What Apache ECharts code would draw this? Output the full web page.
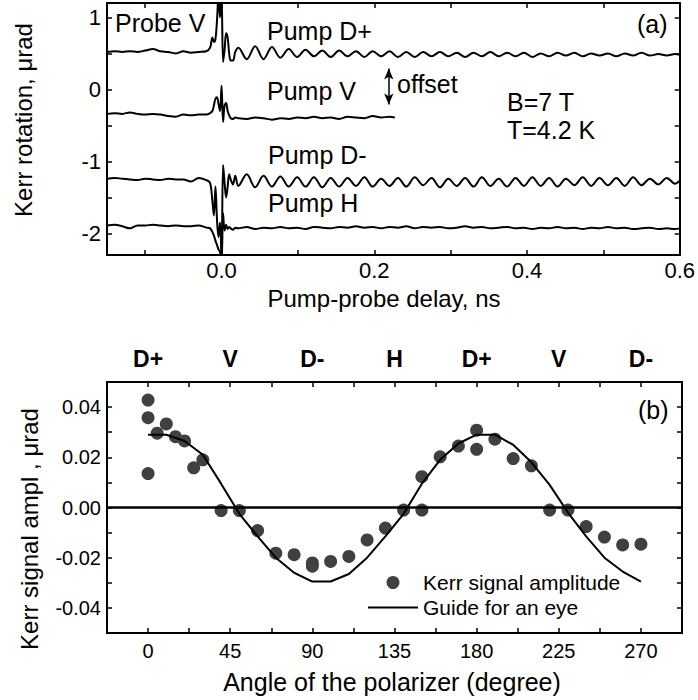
<!DOCTYPE html>
<html><head><meta charset="utf-8">
<script src="https://cdn.jsdelivr.net/npm/echarts@6/dist/echarts.min.js"></script>
<style>html,body{margin:0;padding:0;background:#fff}#c{width:698px;height:700px}</style>
</head><body><div id="c"></div>
<script>
// ---------- panel (a): Kerr rotation traces ----------
const DELAY_NS = [
  -0.15, -0.14, -0.13, -0.12, -0.11, -0.1, -0.09, -0.08, -0.07, -0.06, -0.05, -0.04, -0.03, -0.02,
  -0.015, -0.012, -0.01, -0.008, -0.006, -0.004, -0.002, 0, 0.002, 0.004, 0.006, 0.008, 0.01, 0.012, 0.015, 0.018,
  0.022, 0.033, 0.044, 0.055, 0.066, 0.077, 0.088, 0.099, 0.11, 0.121,
  0.132, 0.143, 0.154, 0.165, 0.176, 0.187, 0.198, 0.209, 0.22, 0.231,
  0.242, 0.253, 0.264, 0.275, 0.286, 0.297, 0.308, 0.319, 0.33, 0.341,
  0.352, 0.363, 0.374, 0.385, 0.396, 0.407, 0.418, 0.429, 0.44, 0.451,
  0.462, 0.473, 0.484, 0.495, 0.506, 0.517, 0.528, 0.539, 0.55, 0.561,
  0.572, 0.583, 0.594, 0.6
];
const PUMP_DPLUS = [
  0.52, 0.53, 0.52, 0.53, 0.52, 0.54, 0.56, 0.53, 0.52, 0.50, 0.53, 0.51, 0.52, 0.53,
  0.58, 0.72, 0.66, 0.70, 0.95, 1.30, 1.00, 1.30, 0.38, 0.55, 0.78, 0.72, 0.50, 0.40, 0.40, 0.52,
  0.58, 0.42, 0.60, 0.42, 0.59, 0.44, 0.56, 0.45, 0.55, 0.46,
  0.54, 0.45, 0.54, 0.46, 0.53, 0.45, 0.53, 0.46, 0.53, 0.45,
  0.52, 0.45, 0.52, 0.46, 0.52, 0.46, 0.51, 0.45, 0.51, 0.46,
  0.52, 0.46, 0.51, 0.46, 0.51, 0.45, 0.50, 0.46, 0.51, 0.47,
  0.51, 0.46, 0.50, 0.47, 0.50, 0.46, 0.50, 0.47, 0.51, 0.47,
  0.49, 0.47, 0.49, 0.48
];
const PUMP_V = [
  -0.34, -0.33, -0.34, -0.32, -0.34, -0.35, -0.34, -0.35, -0.37, -0.38, -0.35, -0.36, -0.35, -0.35,
  -0.33, -0.30, -0.22, -0.13, -0.11, -0.20, -0.30, 0.05, -0.45, -0.22, -0.19, -0.30, -0.36, -0.40, -0.41, -0.39,
  -0.40, -0.41, -0.39, -0.40, -0.42, -0.40, -0.41, -0.39, -0.40, -0.38,
  -0.40, -0.39, -0.41, -0.38, -0.39, -0.40, -0.37, -0.39, -0.38
];
const PUMP_V_END_NS = 0.227;
const PUMP_V_END_VALUE = -0.39;
const PUMP_DMINUS = [
  -1.24, -1.23, -1.24, -1.25, -1.26, -1.24, -1.25, -1.26, -1.24, -1.25, -1.25, -1.28, -1.23, -1.26,
  -1.30, -1.55, -1.75, -1.35, -1.80, -2.05, -1.85, -2.35, -1.05, -1.30, -1.50, -1.35, -1.18, -1.25, -1.32, -1.20,
  -1.34, -1.18, -1.36, -1.20, -1.35, -1.21, -1.35, -1.22, -1.35, -1.22,
  -1.36, -1.23, -1.35, -1.23, -1.34, -1.22, -1.35, -1.24, -1.34, -1.23,
  -1.35, -1.22, -1.33, -1.23, -1.36, -1.24, -1.34, -1.23, -1.35, -1.22,
  -1.34, -1.24, -1.35, -1.23, -1.34, -1.22, -1.34, -1.23, -1.35, -1.24,
  -1.33, -1.22, -1.34, -1.23, -1.33, -1.23, -1.34, -1.22, -1.33, -1.24,
  -1.32, -1.23, -1.31, -1.27
];
const PUMP_H = [
  -1.89, -1.88, -1.90, -1.93, -1.89, -1.89, -1.88, -1.89, -1.90, -1.89, -1.90, -1.90, -1.89, -1.92,
  -1.93, -1.98, -2.03, -2.10, -2.16, -2.22, -2.26, -2.40, -1.72, -1.96, -1.88, -1.94, -1.91, -1.93, -1.95, -1.92,
  -1.93, -1.91, -1.94, -1.92, -1.93, -1.91, -1.93, -1.92, -1.94, -1.91,
  -1.92, -1.93, -1.91, -1.92, -1.90, -1.92, -1.91, -1.93, -1.91, -1.92,
  -1.90, -1.93, -1.91, -1.92, -1.91, -1.93, -1.92, -1.90, -1.92, -1.91,
  -1.93, -1.92, -1.91, -1.93, -1.92, -1.94, -1.92, -1.93, -1.91, -1.93,
  -1.92, -1.94, -1.92, -1.93, -1.91, -1.93, -1.92, -1.94, -1.93, -1.92,
  -1.94, -1.93, -1.94, -1.93
];
const DELAY_TICKS = [-0.1, 0, 0.1, 0.2, 0.3, 0.4, 0.5];
const DELAY_LABELS = [0, 0.2, 0.4, 0.6];
const ROTATION_TICKS = [-2, -1.5, -1, -0.5, 0, 0.5, 1];
const ROTATION_LABELS = [-2, -1, 0, 1];

// ---------- panel (b): Kerr amplitude vs polarizer angle ----------
const ANGLE_DEG = [0, 0, 0, 5, 10, 15, 20, 25, 30, 40, 50, 60, 70, 80, 90, 90, 100, 110, 120, 130,
  140, 150, 150, 160, 170, 180, 180, 190, 200, 210, 220, 230, 240, 250, 260, 270];
const KERR_AMPL = [0.0428, 0.0358, 0.0135, 0.0296, 0.0333, 0.0282, 0.0265, 0.0158, 0.0190, -0.0012,
  -0.0012, -0.0092, -0.0182, -0.0188, -0.0221, -0.0234, -0.0215, -0.0195, -0.0129, -0.0082,
  -0.0010, -0.0010, 0.0123, 0.0202, 0.0245, 0.0308, 0.0232, 0.0272, 0.0195, 0.0166,
  -0.0010, -0.0010, -0.0076, -0.0118, -0.0149, -0.0146];
const GUIDE_DEG = [0, 10, 20, 30, 40, 50, 60, 70, 80, 90, 100, 110, 120, 130, 140, 150, 160, 170, 180,
  190, 200, 210, 220, 230, 240, 250, 260, 270];
const GUIDE_AMPL = [0.0290, 0.0290, 0.0265, 0.0210, 0.0095, -0.0025, -0.0115, -0.0200, -0.0260, -0.0295,
  -0.0295, -0.0265, -0.0200, -0.0115, -0.0025, 0.0095, 0.0190, 0.0255, 0.0290, 0.0290,
  0.0250, 0.0180, 0.0090, -0.0020, -0.0115, -0.0200, -0.0255, -0.0295];
const ANGLE_TICKS = [0, 22.5, 45, 67.5, 90, 112.5, 135, 157.5, 180, 202.5, 225, 247.5, 270];
const ANGLE_LABELS = [0, 45, 90, 135, 180, 225, 270];
const POLARIZATION_NAMES = ['D+', 'V', 'D-', 'H', 'D+', 'V', 'D-'];
const AMPL_TICKS = [-0.04, -0.03, -0.02, -0.01, 0, 0.01, 0.02, 0.03, 0.04];
const AMPL_LABELS = [-0.04, -0.02, 0, 0.02, 0.04];

const FONT = '"Liberation Sans", Arial, Helvetica, sans-serif';
const BLACK = '#000';

function pairs(xs, ys) { return ys.map((y, i) => [xs[i], y]); }

function axisBase(extra) {
  return Object.assign({
    type: 'value',
    axisLine: { show: true, onZero: false, lineStyle: { color: BLACK, width: 2 } },
    splitLine: { show: false },
    axisTick: { show: true, inside: true, length: 5, lineStyle: { color: BLACK, width: 1.5 } },
    axisLabel: { show: false }
  }, extra);
}
function ticks(values) {
  return { show: true, inside: true, length: 5, customValues: values, lineStyle: { color: BLACK, width: 1.5 } };
}

const chart = echarts.init(document.getElementById('c'), null, { renderer: 'svg' });

const traceStyle = { color: BLACK, width: 2 };
function trace(name, vals) {
  return {
    type: 'line', name: name, xAxisIndex: 0, yAxisIndex: 0,
    data: pairs(DELAY_NS, vals), symbol: 'none', showSymbol: false,
    smooth: 0.35, lineStyle: traceStyle, silent: true, clip: true
  };
}
const vSeries = trace('Pump V', PUMP_V);
vSeries.data.push([PUMP_V_END_NS, PUMP_V_END_VALUE]);
vSeries.markLine = {
  silent: true, symbol: ['arrow', 'arrow'], symbolSize: [7, 11],
  lineStyle: { color: BLACK, width: 1.5, type: 'solid' }, label: { show: false },
  data: [[{ coord: [0.219, 0.29] }, { coord: [0.219, -0.21] }]]
};

function txt(text, x, y, size, opts) {
  return {
    type: 'text', x: x, y: y, silent: true,
    style: Object.assign({ text: text, fontSize: size, fontFamily: FONT, fill: BLACK,
      align: 'left', verticalAlign: 'middle' }, opts || {})
  };
}

chart.setOption({
  animation: false,
  backgroundColor: '#fff',
  textStyle: { fontFamily: FONT },
  grid: [
    { left: 107, right: 16, top: 3, height: 252 },
    { left: 107, right: 16, top: 382, height: 251 }
  ],
  xAxis: [
    axisBase({ gridIndex: 0, position: 'bottom', min: -0.15, max: 0.6, axisTick: ticks(DELAY_TICKS),
      axisLabel: { show: true, customValues: DELAY_LABELS, formatter: v => v.toFixed(1),
        fontSize: 22, color: BLACK, fontFamily: FONT, margin: 4 } }),
    axisBase({ gridIndex: 0, position: 'top', min: -0.15, max: 0.6, axisTick: ticks(DELAY_TICKS) }),
    axisBase({ gridIndex: 1, position: 'bottom', min: -22.5, max: 292.5, axisTick: ticks(ANGLE_TICKS),
      axisLabel: { show: true, customValues: ANGLE_LABELS, formatter: v => String(v),
        fontSize: 20, color: BLACK, fontFamily: FONT, margin: 8 } }),
    axisBase({ gridIndex: 1, position: 'top', min: -22.5, max: 292.5, axisTick: ticks(ANGLE_TICKS),
      axisLabel: { show: true, customValues: ANGLE_LABELS,
        formatter: v => POLARIZATION_NAMES[ANGLE_LABELS.indexOf(v)] || '',
        fontSize: 23, fontWeight: 'bold', color: BLACK, fontFamily: FONT, margin: 12 } })
  ],
  yAxis: [
    axisBase({ gridIndex: 0, position: 'left', min: -2.3, max: 1.2, axisTick: ticks(ROTATION_TICKS),
      axisLabel: { show: true, customValues: ROTATION_LABELS, formatter: v => String(v),
        fontSize: 22, color: BLACK, fontFamily: FONT, margin: 6 } }),
    axisBase({ gridIndex: 0, position: 'right', min: -2.3, max: 1.2, axisTick: ticks(ROTATION_TICKS) }),
    axisBase({ gridIndex: 1, position: 'left', min: -0.05, max: 0.05, axisTick: ticks(AMPL_TICKS),
      axisLabel: { show: true, customValues: AMPL_LABELS, formatter: v => v.toFixed(2),
        fontSize: 20, color: BLACK, fontFamily: FONT, margin: 6 } }),
    axisBase({ gridIndex: 1, position: 'right', min: -0.05, max: 0.05, axisTick: ticks(AMPL_TICKS) })
  ],
  legend: {
    data: [
      { name: 'Kerr signal amplitude', icon: 'circle' },
      { name: 'Guide for an eye', icon: 'path://M0,0 L50,0 L50,2 L0,2 Z' }
    ],
    orient: 'vertical', left: 368, top: 572, padding: 0,
    itemWidth: 50, itemHeight: 13, itemGap: 4, symbolKeepAspect: true,
    selectedMode: false,
    textStyle: { fontSize: 21, color: BLACK, fontFamily: FONT }
  },
  series: [
    trace('Pump D+', PUMP_DPLUS),
    vSeries,
    trace('Pump D-', PUMP_DMINUS),
    trace('Pump H', PUMP_H),
    {
      type: 'scatter', name: 'Kerr signal amplitude', xAxisIndex: 2, yAxisIndex: 2,
      data: pairs(ANGLE_DEG, KERR_AMPL), symbol: 'circle', symbolSize: 13,
      itemStyle: { color: '#404040', opacity: 1 }, silent: true,
      markLine: {
        silent: true, symbol: ['none', 'none'], label: { show: false },
        lineStyle: { color: BLACK, width: 2.5, type: 'solid' },
        data: [{ yAxis: 0 }]
      }
    },
    {
      type: 'line', name: 'Guide for an eye', xAxisIndex: 2, yAxisIndex: 2,
      data: pairs(GUIDE_DEG, GUIDE_AMPL), symbol: 'none', showSymbol: false,
      lineStyle: { color: BLACK, width: 2 }, itemStyle: { color: BLACK }, silent: true, z: 3
    }
  ],
  graphic: [
    txt('Probe V', 115, 23, 25),
    txt('Pump D+', 267, 31, 25),
    txt('(a)', 637, 24, 25),
    txt('Pump V', 267, 91, 25),
    txt('offset', 397, 84, 25),
    txt('B=7 T', 507, 102, 25),
    txt('T=4.2 K', 507, 130, 25),
    txt('Pump D-', 268, 155, 25),
    txt('Pump H', 268, 203, 25),
    txt('(b)', 638, 410, 25),
    txt('Pump-probe delay, ns', 384, 298, 24, { align: 'center' }),
    txt('Angle of the polarizer (degree)', 392, 682, 25, { align: 'center' }),
    Object.assign(txt('Kerr rotation, μrad', 23, 120, 24, { align: 'center' }), { rotation: Math.PI / 2 }),
    Object.assign(txt('Kerr signal ampl , μrad', 29, 529, 24, { align: 'center' }), { rotation: Math.PI / 2 })
  ]
});
</script>
</body></html>
